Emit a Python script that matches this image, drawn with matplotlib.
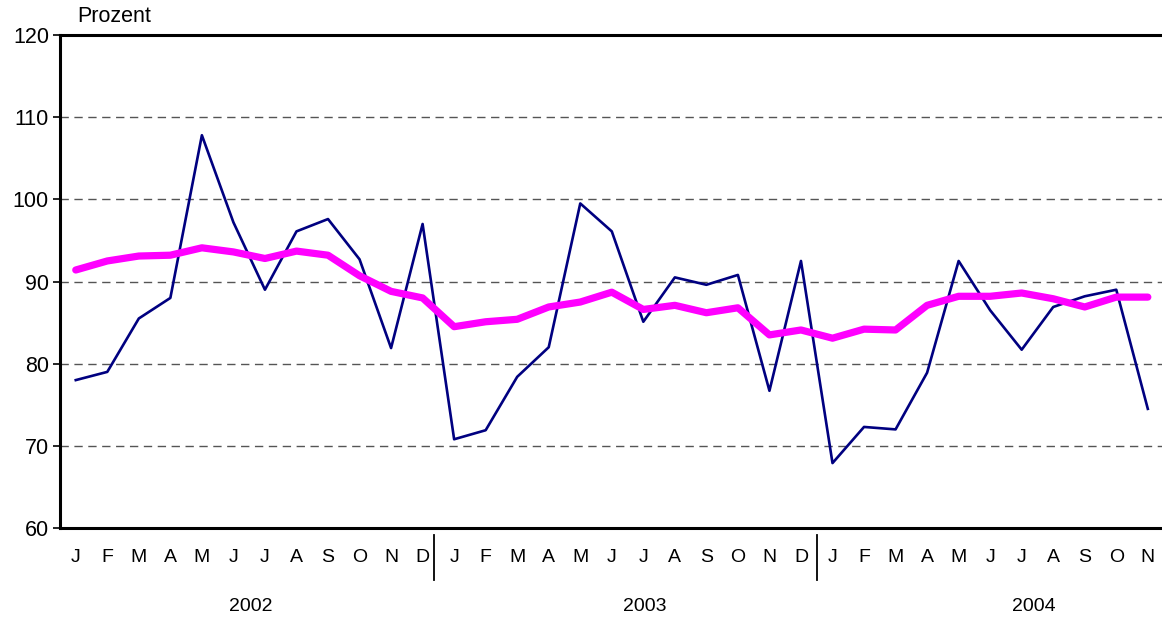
import matplotlib.pyplot as plt
import matplotlib.transforms as mtransforms

plt.rcParams['font.family'] = ['Liberation Sans', 'DejaVu Sans']

months = ["J", "F", "M", "A", "M", "J", "J", "A", "S", "O", "N", "D"] * 2 + \
         ["J", "F", "M", "A", "M", "J", "J", "A", "S", "O", "N"]
years = ["2002", "2003", "2004"]
year_pos = [5.55, 18.05, 30.4]
year_breaks = [11.36, 23.5]

monthly = [78.0, 79.0, 85.5, 88.0, 107.8, 97.2, 89.0, 96.1, 97.6, 92.7, 81.9, 97.0,
           70.8, 71.9, 78.4, 82.0, 99.5, 96.1, 85.1, 90.5, 89.6, 90.8, 76.7, 92.5,
           67.9, 72.3, 72.0, 78.9, 92.5, 86.5, 81.7, 86.9, 88.2, 89.0, 74.5]
trend = [91.4, 92.5, 93.1, 93.2, 94.1, 93.6, 92.8, 93.7, 93.2, 90.7, 88.8, 88.0,
         84.5, 85.1, 85.4, 86.9, 87.5, 88.7, 86.6, 87.1, 86.2, 86.8, 83.5, 84.1,
         83.1, 84.2, 84.1, 87.1, 88.2, 88.2, 88.6, 87.9, 86.9, 88.1, 88.1]

x = list(range(len(months)))

fig = plt.figure(figsize=(11.62, 6.22), dpi=100)
ax = fig.add_axes([60 / 1162, 1 - 528 / 622, 1 - 60 / 1162, 493 / 622])

# dashed horizontal grid
for yv in [70, 80, 90, 100, 110]:
    ax.axhline(yv, color="#555555", lw=1.0, ls=(0, (6, 4)), zorder=1)

ax.plot(x, monthly, color="#000080", lw=1.9, zorder=3)
ax.plot(x, trend, color="#FF00FF", lw=5.2, solid_capstyle="round", zorder=4)

ax.set_xlim(-0.5, 34.45)
ax.set_ylim(60, 120)
ax.set_yticks([60, 70, 80, 90, 100, 110, 120])
ax.tick_params(axis="y", labelsize=15.5, length=5, width=1.2, pad=3)
ax.set_xticks(x)
ax.set_xticklabels(months)
ax.tick_params(axis="x", labelsize=14, length=0, pad=15)

for s in ["left", "bottom", "top"]:
    ax.spines[s].set_linewidth(2.2)
ax.spines["right"].set_visible(False)

# year separators and labels below the month letters
trans = mtransforms.blended_transform_factory(ax.transData, ax.transAxes)
for xb in year_breaks:
    ax.plot([xb, xb], [-0.014, -0.105], color="black", lw=1.3,
            transform=trans, clip_on=False)
for yp, yl in zip(year_pos, years):
    ax.text(yp, -0.16, yl, transform=trans, ha="center", va="center", fontsize=14)

ax.text(77 / 1162, 1 - 17 / 622, "Prozent", transform=fig.transFigure,
        ha="left", va="center", fontsize=15.5)

plt.savefig("out.png", dpi=100)
